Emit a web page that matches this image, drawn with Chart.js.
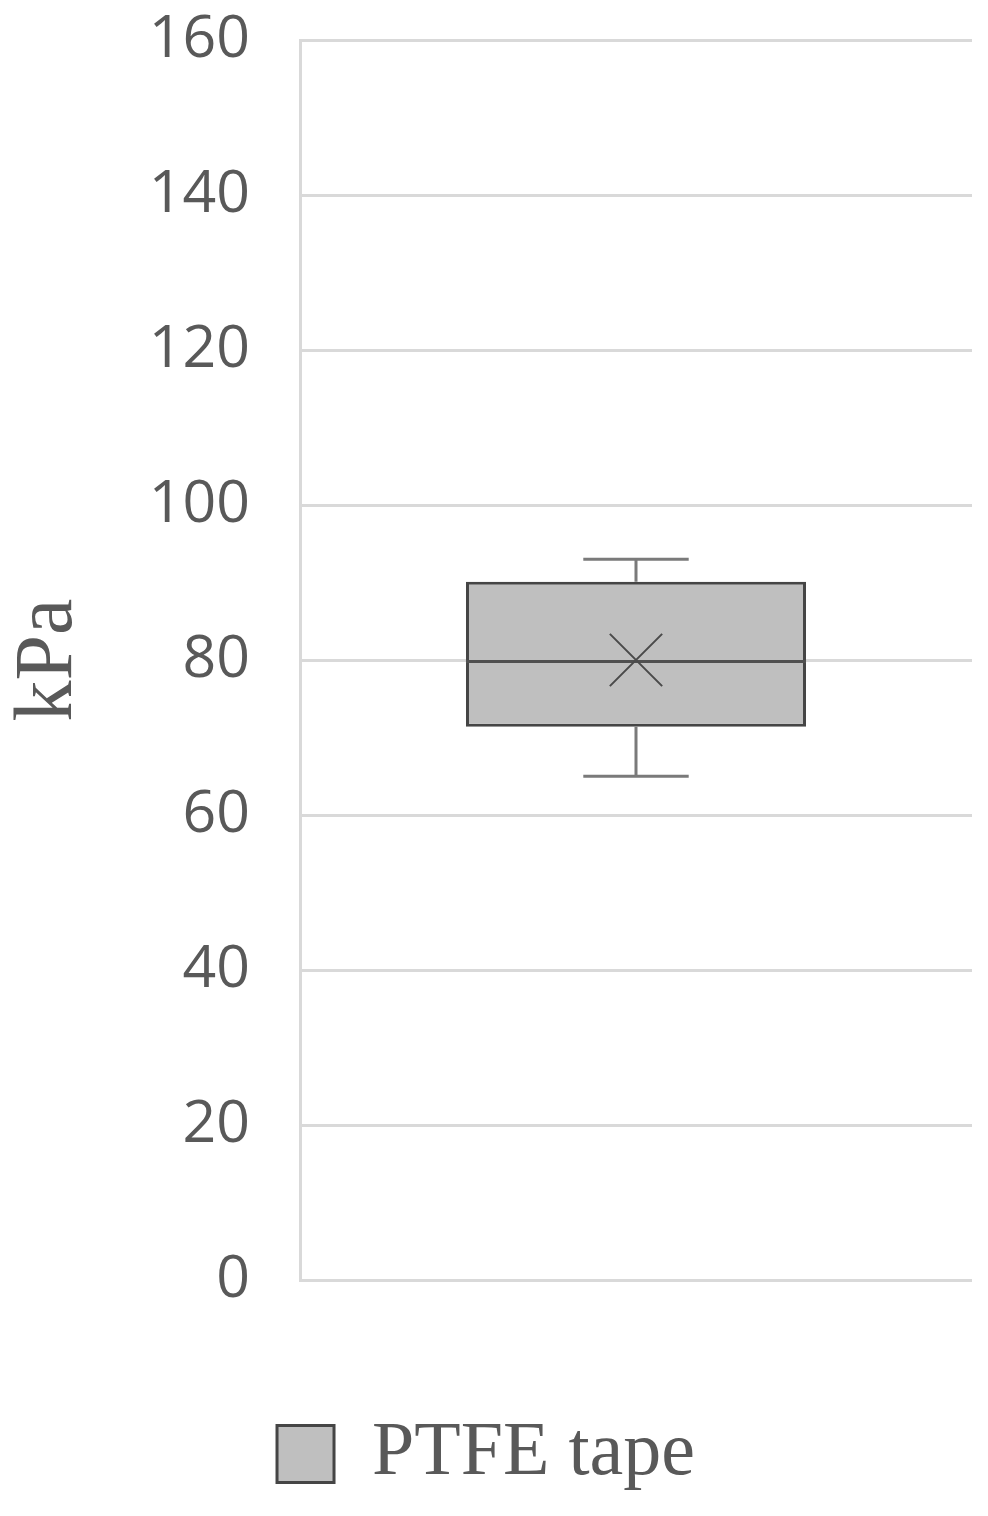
<!DOCTYPE html>
<html>
<head>
<meta charset="utf-8">
<script src="https://cdn.jsdelivr.net/npm/chart.js@4"></script>
<style>
    html, body { margin: 0; padding: 0; background: #ffffff; }
    #wrap { width: 988px; height: 1516px; }
</style>
</head>
<body>
<div id="wrap"><canvas id="boxChart" width="988" height="1516"></canvas></div>
<script>
// --- data ---
const categories = ['PTFE tape'];
const whiskerLow = [65];
const quartile1 = [71.4];
const medians = [79.8];
const quartile3 = [90.1];
const whiskerHigh = [93];
const means = [80];
const yMin = 0;
const yMax = 160;
const yStep = 20;

// whiskers + median line, drawn with the chart's own scales
const boxExtras = {
    id: 'boxExtras',
    afterDatasetDraw(chart, args) {
        if (args.index !== 0) return;
        const ctx = chart.ctx;
        const y = chart.scales.y;
        args.meta.data.forEach((bar, i) => {
            const x = bar.x;
            const half = bar.width / 2;
            const cap = bar.width * 0.155;
            ctx.save();
            ctx.lineCap = 'butt';
            ctx.strokeStyle = '#7a7a7a';
            ctx.lineWidth = 3;
            ctx.beginPath();
            ctx.moveTo(x, y.getPixelForValue(quartile3[i]));
            ctx.lineTo(x, y.getPixelForValue(whiskerHigh[i]));
            ctx.moveTo(x - cap, y.getPixelForValue(whiskerHigh[i]));
            ctx.lineTo(x + cap, y.getPixelForValue(whiskerHigh[i]));
            ctx.moveTo(x, y.getPixelForValue(quartile1[i]));
            ctx.lineTo(x, y.getPixelForValue(whiskerLow[i]));
            ctx.moveTo(x - cap, y.getPixelForValue(whiskerLow[i]));
            ctx.lineTo(x + cap, y.getPixelForValue(whiskerLow[i]));
            ctx.stroke();
            ctx.strokeStyle = '#505050';
            ctx.beginPath();
            ctx.moveTo(x - half, y.getPixelForValue(medians[i]));
            ctx.lineTo(x + half, y.getPixelForValue(medians[i]));
            ctx.stroke();
            ctx.restore();
        });
    }
};

new Chart(document.getElementById('boxChart'), {
    type: 'bar',
    data: {
        labels: categories,
        datasets: [{
            label: 'PTFE tape',
            data: quartile1.map((q, i) => [q, quartile3[i]]),
            backgroundColor: '#bfbfbf',
            borderColor: '#454545',
            borderWidth: 3,
            borderSkipped: false,
            categoryPercentage: 1,
            barPercentage: 0.506,
            order: 1
        }, {
            type: 'line',
            label: 'mean',
            data: means,
            showLine: false,
            pointStyle: 'crossRot',
            pointRadius: 37,
            pointBorderColor: '#4a4a4a',
            pointBorderWidth: 2,
            order: 0
        }]
    },
    options: {
        responsive: false,
        animation: false,
        layout: { autoPadding: false, padding: { top: 40, right: 16, left: 0, bottom: 14 } },
        scales: {
            x: {
                grid: { display: false },
                border: { display: false },
                ticks: { display: false },
                afterFit: (s) => { s.height = 126; }
            },
            y: {
                min: yMin,
                max: yMax,
                ticks: {
                    stepSize: yStep,
                    padding: 50,
                    color: '#595959',
                    font: { family: 'Open Sans', size: 59 }
                },
                grid: { color: '#d9d9d9', lineWidth: 3, drawTicks: false },
                border: { color: '#d9d9d9', width: 3 },
                title: {
                    display: true,
                    text: 'kPa',
                    color: '#595959',
                    font: { family: 'Liberation Serif', size: 82 },
                    padding: 0
                },
                afterFit: (s) => {
                    s.width = 300;
                    s.paddingTop = 0;
                    s.paddingBottom = 0;
                }
            }
        },
        plugins: {
            tooltip: { enabled: false },
            legend: {
                position: 'bottom',
                labels: {
                    filter: (item) => item.datasetIndex === 0,
                    boxWidth: 57,
                    boxHeight: 57,
                    color: '#595959',
                    padding: 10,
                    font: { family: 'Liberation Serif', size: 76 }
                }
            }
        }
    },
    plugins: [boxExtras]
});
</script>
</body>
</html>
